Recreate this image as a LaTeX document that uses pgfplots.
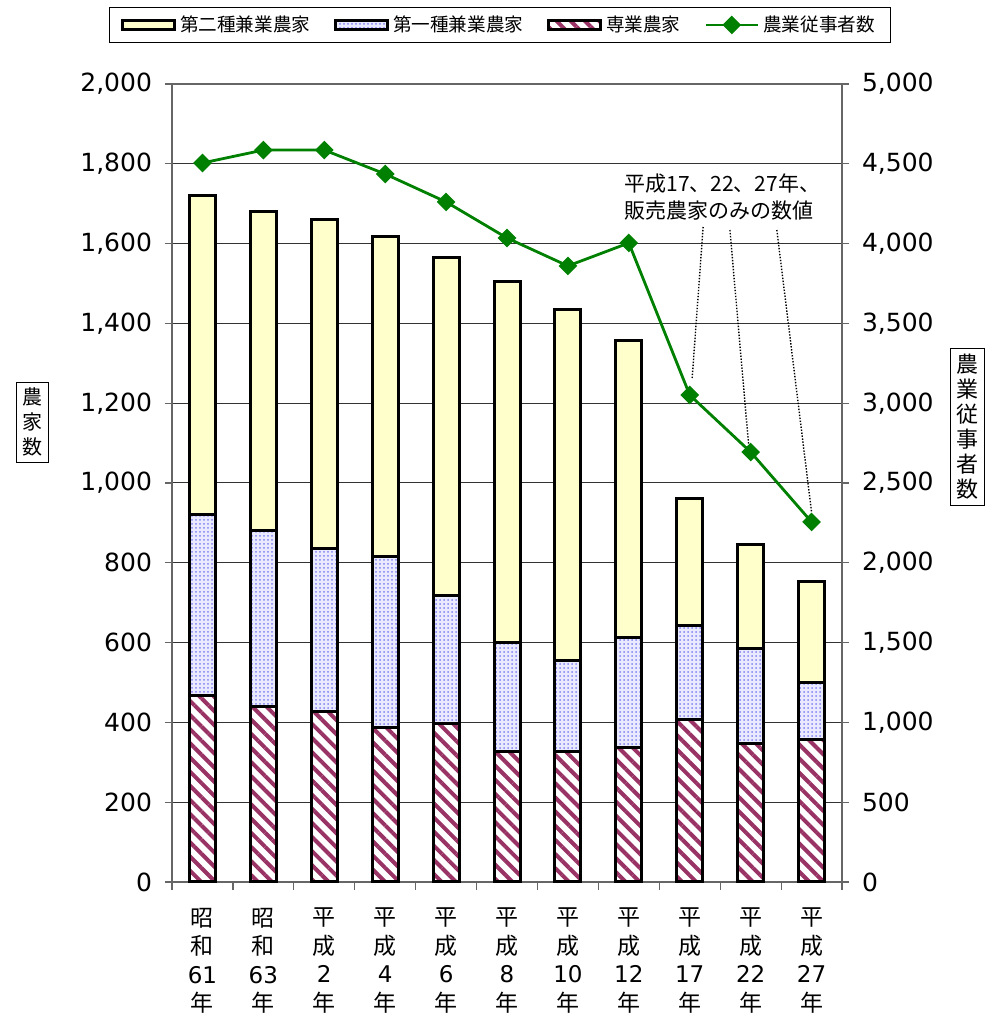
\documentclass[border=0pt]{standalone}
\usepackage{fontspec}
\setmainfont{Noto Sans CJK JP}
\newfontfamily\numfont{DejaVu Sans}
\usepackage{pgfplots}
\pgfplotsset{compat=1.18}
\usetikzlibrary{patterns.meta}

\definecolor{nikenA}{HTML}{FFFFCC}
\definecolor{dotblue}{HTML}{8080F0}
\definecolor{dotbg}{HTML}{EAEAFF}
\definecolor{stripe}{HTML}{993366}
\definecolor{linegreen}{HTML}{008000}

\tikzset{
  senpat/.style={pattern={Lines[angle=-45,distance=5pt,line width=2pt]}, pattern color=stripe},
  dotpat/.style={pattern={Dots[radius=0.5pt,distance=2pt]}, pattern color=dotblue},
}
\pgfplotsset{
  greenleg/.style={legend image code/.code={\draw[mark repeat=2,mark phase=2,##1] plot coordinates {(0pt,0pt) (13pt,0pt) (26pt,0pt)};}},
}

\begin{document}
\begin{tikzpicture}
\path[use as bounding box] (-86pt,-69pt) rectangle (414pt,441pt);

% bars, left axis
\begin{axis}[
  at={(0pt,0pt)}, anchor=south west,
  scale only axis, width=335pt, height=399pt,
  clip=false,
  ybar stacked, bar width=13pt,
  xmin=-0.5, xmax=10.5, ymin=0, ymax=2000,
  ytick={0,200,...,2000},
  xtick={0,...,10},
  minor xtick={-0.5,0.5,...,10.5},
  xtick pos=bottom, ytick pos=left,
  tick align=outside,
  major tick length=3.5pt, minor tick length=4pt,
  x tick style={draw=none},
  minor x tick style={draw=black!60, line width=0.6pt},
  y tick style={black!60, line width=0.6pt},
  xticklabels={{昭\\和\\{\numfont 61}\\年},{昭\\和\\{\numfont 63}\\年},{平\\成\\{\numfont 2}\\年},{平\\成\\{\numfont 4}\\年},{平\\成\\{\numfont 6}\\年},{平\\成\\{\numfont 8}\\年},{平\\成\\{\numfont 10}\\年},{平\\成\\{\numfont 12}\\年},{平\\成\\{\numfont 17}\\年},{平\\成\\{\numfont 22}\\年},{平\\成\\{\numfont 27}\\年}},
  xticklabel style={align=center, font=\fontsize{11.5}{14.2}\selectfont, yshift=-6pt},
  /pgf/number format/assume math mode=true,
  /pgf/number format/1000 sep={,},
  scaled ticks=false,
  yticklabel style={font=\numfont\fontsize{12.5}{14}\selectfont, xshift=-3pt},
  ymajorgrids,
  grid style={black!80, line width=0.5pt},
  axis line style={black!60, line width=0.8pt},
]
\addplot[draw=black, line width=1.5pt, preaction={fill=white}, preaction={senpat}]
  coordinates {(0,468) (1,441) (2,428) (3,386) (4,398) (5,328) (6,328) (7,338) (8,408) (9,348) (10,358)};
\addplot[draw=black, line width=1.5pt, preaction={fill=dotbg}, preaction={dotpat}]
  coordinates {(0,452) (1,439) (2,409) (3,429) (4,319) (5,273) (6,228) (7,276) (8,234) (9,236) (10,141)};
\addplot[draw=black, line width=1.5pt, fill=nikenA]
  coordinates {(0,800) (1,800) (2,823) (3,804) (4,849) (5,905) (6,880) (7,742) (8,318) (9,263) (10,255)};

\node[draw=black, line width=0.5pt, align=center, inner sep=3pt,
  font=\fontsize{10}{12.5}\selectfont] at (axis description cs:-0.2075,0.576) {農\\家\\数};
\end{axis}

% line, right axis
\begin{axis}[
  at={(0pt,0pt)}, anchor=south west,
  scale only axis, width=335pt, height=399pt,
  clip=false,
  xmin=-0.5, xmax=10.5, ymin=0, ymax=5000,
  axis x line=none, axis y line*=right,
  ytick={0,500,...,5000},
  tick align=outside, major tick length=3.5pt,
  y tick style={black!60, line width=0.6pt},
  /pgf/number format/assume math mode=true,
  /pgf/number format/1000 sep={,},
  scaled ticks=false,
  yticklabel style={font=\numfont\fontsize{12.5}{14}\selectfont, xshift=3pt},
  axis line style={black!60, line width=0.8pt},
  legend style={at={(axis description cs:0.4896,1.074)}, anchor=center,
    draw=black, line width=0.6pt, legend columns=4,
    font=\fontsize{9.3}{11}\selectfont, inner xsep=6pt, inner ysep=2pt,
    /tikz/every even column/.append style={column sep=10pt}},
  legend cell align=left,
]
\addlegendimage{legend image code/.code={\draw[fill=nikenA,line width=1.4pt] (0pt,-2.3pt) rectangle (26pt,2.3pt);}}
\addlegendentry{第二種兼業農家}
\addlegendimage{legend image code/.code={\fill[dotbg] (0pt,-2.3pt) rectangle (26pt,2.3pt); \fill[dotpat] (0pt,-2.3pt) rectangle (26pt,2.3pt); \draw[line width=1.4pt] (0pt,-2.3pt) rectangle (26pt,2.3pt);}}
\addlegendentry{第一種兼業農家}
\addlegendimage{legend image code/.code={\fill[white] (0pt,-2.3pt) rectangle (26pt,2.3pt); \fill[senpat] (0pt,-2.3pt) rectangle (26pt,2.3pt); \draw[line width=1.4pt] (0pt,-2.3pt) rectangle (26pt,2.3pt);}}
\addlegendentry{専業農家}
\addplot[linegreen, line width=1.4pt, mark=square*, mark size=2.6pt,
  mark options={rotate=45, fill=linegreen, solid}, greenleg]
  coordinates {(0,4505) (1,4586) (2,4586) (3,4436) (4,4261) (5,4035) (6,3860) (7,4004) (8,3051) (9,2694) (10,2256)};
\addlegendentry{農業従事者数}

\draw[line width=0.7pt, dash pattern=on 0.7pt off 0.8pt] (axis cs:8.22,4104) -- (axis cs:8.04,3158);
\draw[line width=0.7pt, dash pattern=on 0.7pt off 0.8pt] (axis cs:8.66,4085) -- (axis cs:8.97,2726);
\draw[line width=0.7pt, dash pattern=on 0.7pt off 0.8pt] (axis cs:9.43,4085) -- (axis cs:10.0,2318);
\node[anchor=west, align=left, inner sep=0pt, font=\fontsize{10.5}{13.5}\selectfont]
  at (axis cs:6.92,4292) {平成17、22、27年、\\販売農家のみの数値};

\node[draw=black, line width=0.5pt, align=center, inner sep=3pt,
  font=\fontsize{11}{12.5}\selectfont] at (axis description cs:1.1866,0.57) {農\\業\\従\\事\\者\\数};
\end{axis}
\end{tikzpicture}
\end{document}
